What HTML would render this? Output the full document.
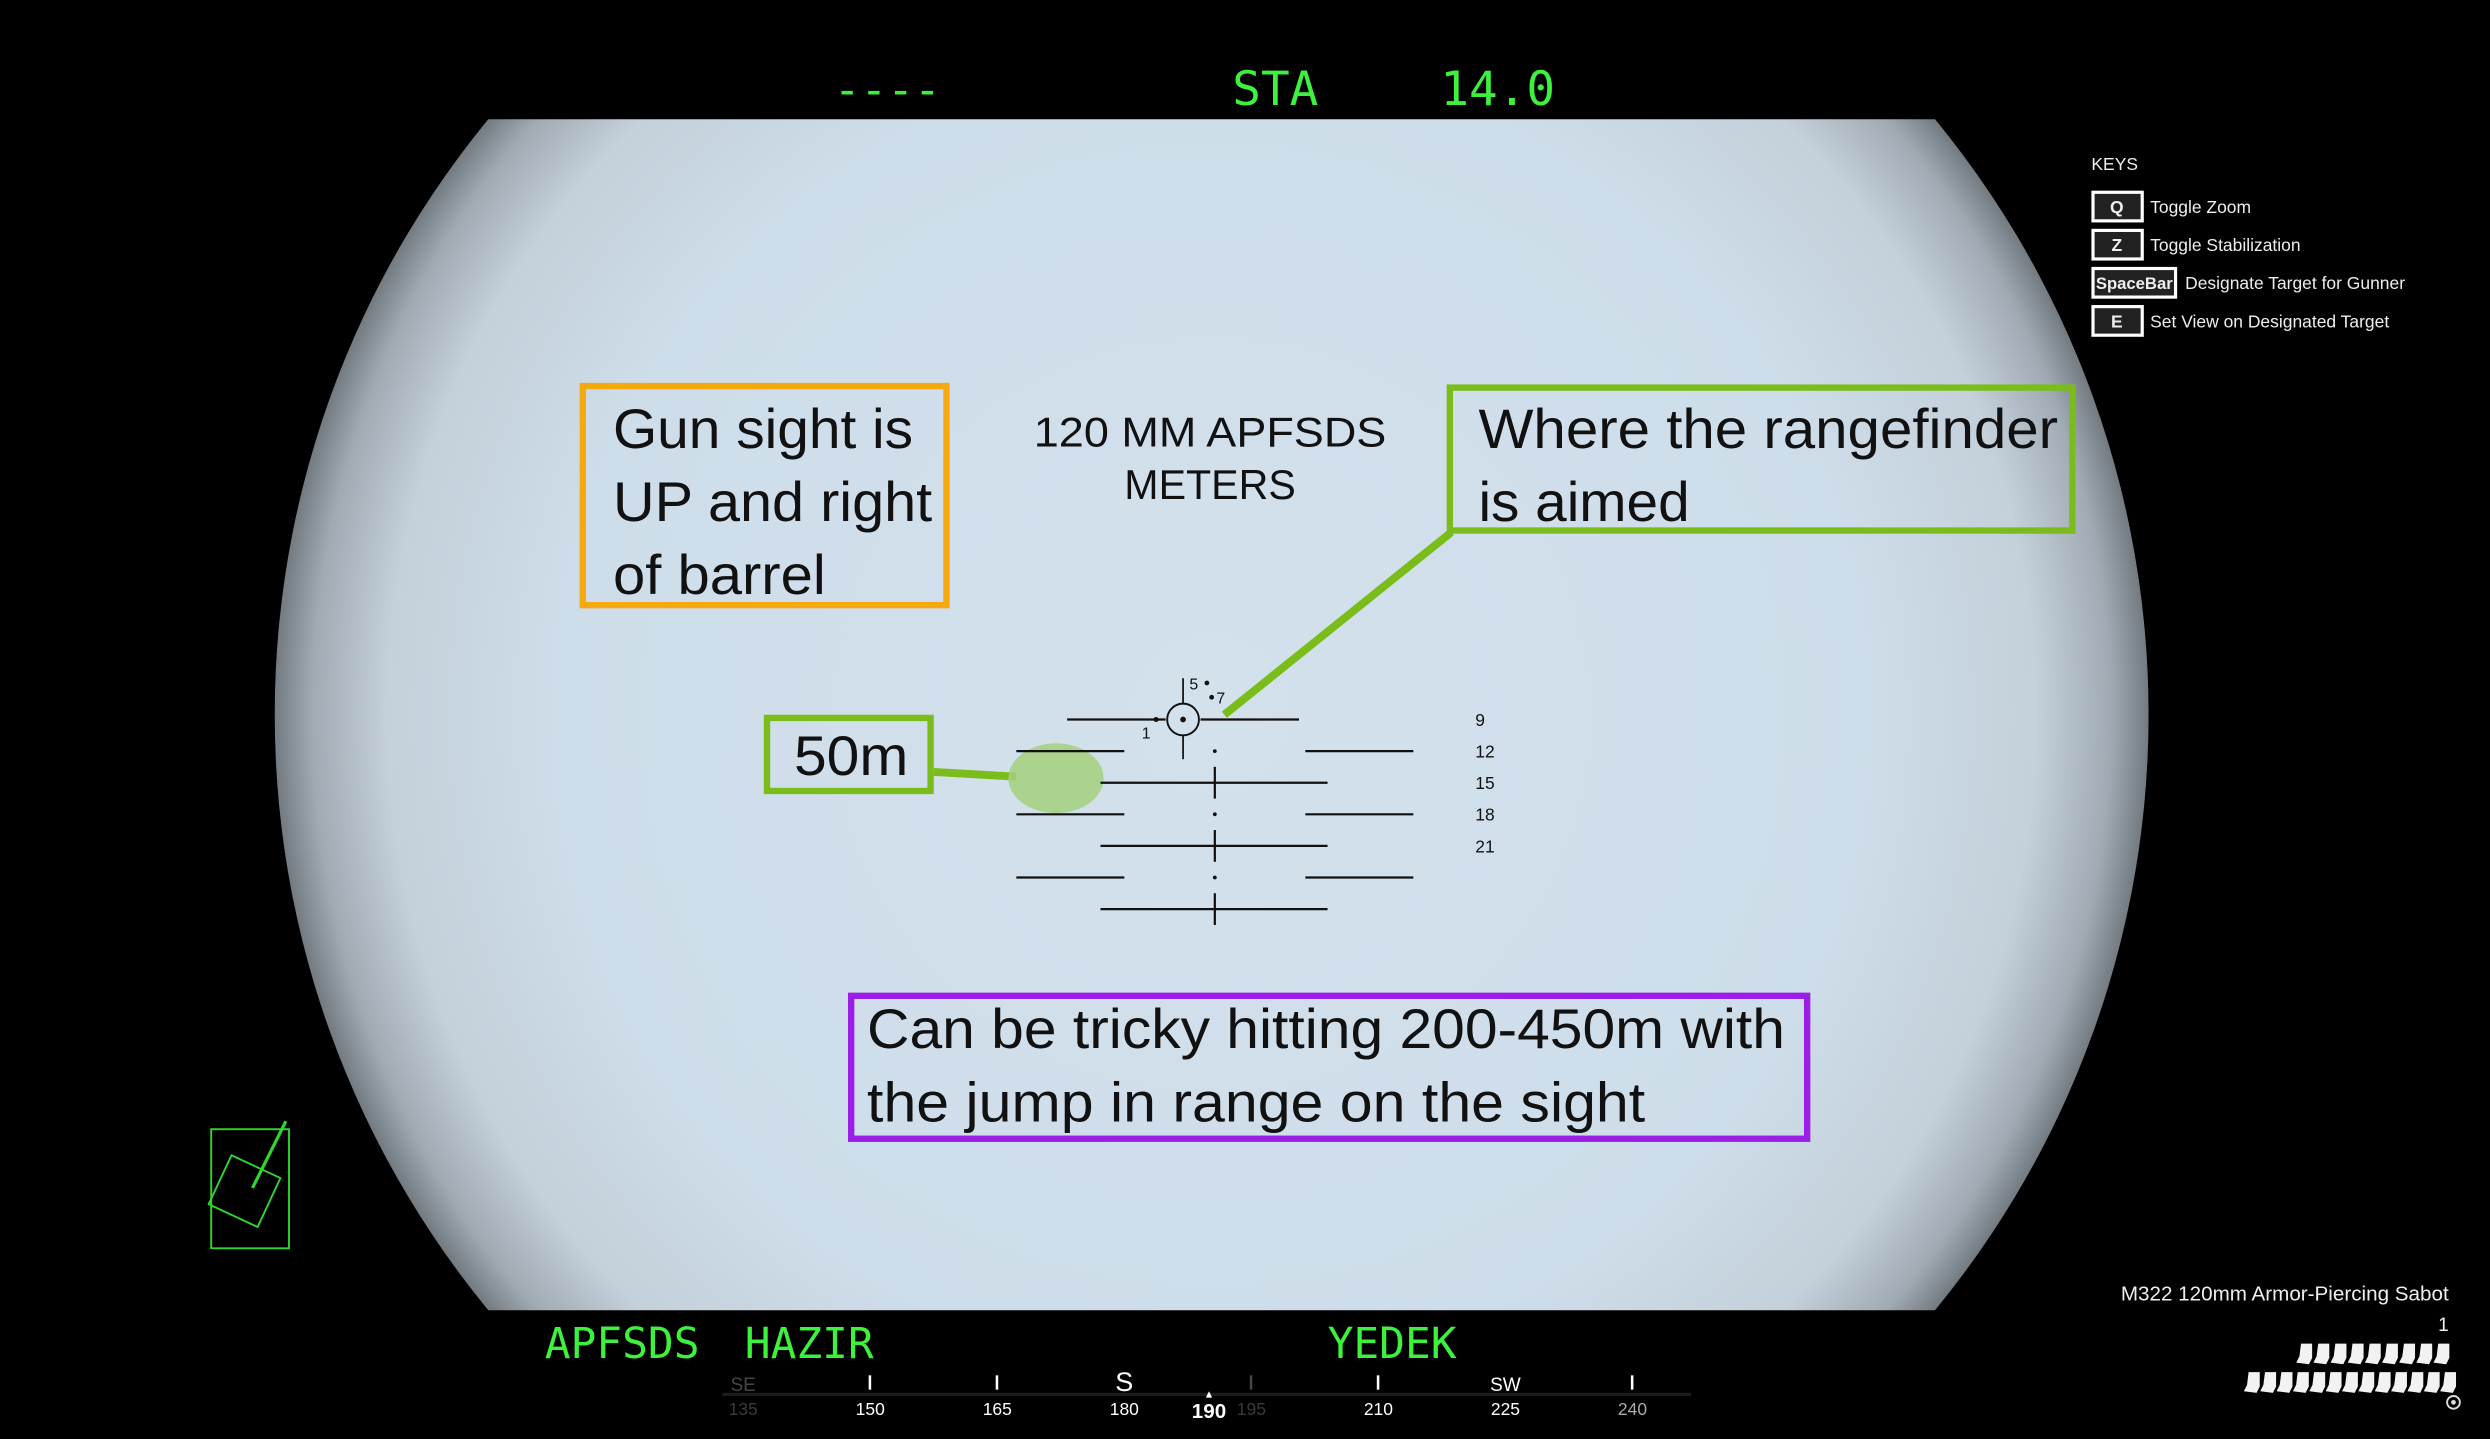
<!DOCTYPE html>
<html><head><meta charset="utf-8"><style>
html,body{margin:0;padding:0;background:#000;width:2490px;height:1439px;overflow:hidden}
svg{display:block}
.hud{font-family:"DejaVu Sans Mono","Liberation Mono",monospace;fill:#3df23d}
.ann{font-family:"Liberation Sans",sans-serif;fill:#111}
.wt{font-family:"Liberation Sans",sans-serif;fill:#eee}
</style></head><body>
<svg id="s" width="2490" height="1439" viewBox="0 0 1568 906" xmlns="http://www.w3.org/2000/svg">
<defs>
<radialGradient id="vg" cx="763" cy="450" r="590" gradientUnits="userSpaceOnUse">
<stop offset="0" stop-color="#d3e1ec"/><stop offset="0.7" stop-color="#cddde9"/><stop offset="0.88" stop-color="#c4d0da"/><stop offset="0.96" stop-color="#a0aab3"/><stop offset="1" stop-color="#737b81"/>
</radialGradient>
<clipPath id="cp"><rect x="0" y="75" width="1568" height="750"/></clipPath>
</defs>
<rect width="1568" height="906" fill="#000"/>
<circle cx="763" cy="450" r="590" fill="url(#vg)" clip-path="url(#cp)"/>

<text class="hud" x="525" y="66" font-size="28">----</text>
<text class="hud" x="776" y="66" font-size="30">STA</text>
<text class="hud" x="907" y="66" font-size="30">14.0</text>

<g font-family="Liberation Sans,sans-serif" font-size="11">
<text class="wt" x="1317" y="107">KEYS</text>
<g><rect x="1318" y="121" width="31" height="18" fill="#222" stroke="#fff" stroke-width="2"/><text class="wt" x="1333" y="134" text-anchor="middle" font-weight="bold">Q</text><text class="wt" x="1354" y="134">Toggle Zoom</text></g>
<g><rect x="1318" y="145" width="31" height="18" fill="#222" stroke="#fff" stroke-width="2"/><text class="wt" x="1333" y="158" text-anchor="middle" font-weight="bold">Z</text><text class="wt" x="1354" y="158">Toggle Stabilization</text></g>
<g><rect x="1318" y="169" width="52" height="18" fill="#222" stroke="#fff" stroke-width="2"/><text class="wt" x="1344" y="182" text-anchor="middle" font-weight="bold" font-size="10.5">SpaceBar</text><text class="wt" x="1376" y="182">Designate Target for Gunner</text></g>
<g><rect x="1318" y="193" width="31" height="18" fill="#222" stroke="#fff" stroke-width="2"/><text class="wt" x="1333" y="206" text-anchor="middle" font-weight="bold">E</text><text class="wt" x="1354" y="206">Set View on Designated Target</text></g>
</g>

<g>
<rect x="367" y="243" width="229" height="138" fill="none" stroke="#f5a90e" stroke-width="4"/>
<text class="ann" x="386" y="282" font-size="35" textLength="189" lengthAdjust="spacingAndGlyphs">Gun sight is</text>
<text class="ann" x="386" y="328" font-size="35" textLength="201" lengthAdjust="spacingAndGlyphs">UP and right</text>
<text class="ann" x="386" y="374" font-size="35" textLength="134" lengthAdjust="spacingAndGlyphs">of barrel</text>
</g>
<g font-family="Liberation Sans,sans-serif" font-size="26" fill="#111">
<text x="651" y="281" textLength="222" lengthAdjust="spacingAndGlyphs">120 MM  APFSDS</text><text x="708" y="314" textLength="108" lengthAdjust="spacingAndGlyphs">METERS</text>
</g>
<g>
<rect x="913" y="244" width="392" height="90" fill="none" stroke="#7abd1a" stroke-width="4"/>
<text class="ann" x="931" y="282" font-size="35" textLength="365" lengthAdjust="spacingAndGlyphs">Where the rangefinder</text>
<text class="ann" x="931" y="328" font-size="35" textLength="133" lengthAdjust="spacingAndGlyphs">is aimed</text>
<line x1="914" y1="335" x2="771" y2="450" stroke="#7abd1a" stroke-width="5"/>
</g>
<g>
<rect x="483" y="452" width="103" height="46" fill="none" stroke="#7abd1a" stroke-width="4"/>
<text class="ann" x="500" y="488" font-size="35" textLength="72" lengthAdjust="spacingAndGlyphs">50m</text>
<line x1="588" y1="486" x2="640" y2="489" stroke="#7abd1a" stroke-width="5"/>
<ellipse cx="665" cy="490" rx="30" ry="22" fill="#a6d07e" opacity="0.85"/>
</g>
<g>
<rect x="536" y="627" width="602" height="90" fill="none" stroke="#9b1ee6" stroke-width="4"/>
<text class="ann" x="546" y="660" font-size="35" textLength="578" lengthAdjust="spacingAndGlyphs">Can be tricky hitting 200-450m with</text>
<text class="ann" x="546" y="706" font-size="35" textLength="490" lengthAdjust="spacingAndGlyphs">the jump in range on the sight</text>
</g>

<g id="reticle" stroke="#111" fill="#111" font-family="Liberation Sans,sans-serif"></g>

<text class="hud" x="343" y="855" font-size="27">APFSDS</text>
<text class="hud" x="469" y="855" font-size="27">HAZIR</text>
<text class="hud" x="836" y="855" font-size="27">YEDEK</text>

<g stroke="#2ed62e" fill="none" stroke-width="1.2">
<rect x="133" y="711" width="49" height="75"/>
<rect x="137" y="733" width="34" height="34" transform="rotate(25 154 750)"/>
<line x1="159" y1="748" x2="180" y2="706" stroke-width="2"/>
</g>

<g id="compass" font-family="Liberation Sans,sans-serif"></g>

<g>
<text class="wt" x="1542" y="819" font-size="13" text-anchor="end">M322 120mm Armor-Piercing Sabot</text>
<text class="wt" x="1542" y="838" font-size="12" text-anchor="end">1</text>
<g id="rounds" fill="#f2f2f2"></g>
<circle cx="1545" cy="883" r="4" fill="none" stroke="#ddd" stroke-width="1.2"/><circle cx="1545" cy="883" r="1.5" fill="#ddd"/>
</g>
</svg>
<script>
const NS="http://www.w3.org/2000/svg";
// reticle data
const rangeLabels=["9","12","15","18","21"];
const rowKinds=["main","side","cross","dotside","cross","dotside","cross"];
// compass data
const headings=[135,150,165,180,195,210,225,240];
const headingNames={135:"SE",180:"S",225:"SW"};
const currentHeading=190;

function el(tag,attrs,parent){const e=document.createElementNS(NS,tag);for(const k in attrs)e.setAttribute(k,attrs[k]);parent.appendChild(e);return e;}
const ret=document.getElementById('reticle');
const cx=765, rowY=i=>453+i*19.9;
rowKinds.forEach((k,i)=>{
  const y=rowY(i);
  if(k==="main"){
    let a=el('line',{x1:672,y1:y,x2:734,y2:y,'stroke-width':1.4},ret);
    let b=el('line',{x1:756,y1:y,x2:818,y2:y,'stroke-width':1.4},ret);
  } else if(k==="side"||k==="dotside"){
    let a=el('line',{x1:640,y1:y,x2:708,y2:y,'stroke-width':1.4},ret);
    let b=el('line',{x1:822,y1:y,x2:890,y2:y,'stroke-width':1.4},ret);
    let d=el('circle',{cx:cx,cy:y,r:1.2,stroke:'none'},ret);
  } else {
    let a=el('line',{x1:693,y1:y,x2:836,y2:y,'stroke-width':1.4},ret);
    let b=el('line',{x1:cx,y1:y-10,x2:cx,y2:y+10,'stroke-width':1.4},ret);
  }
});
rangeLabels.forEach((t,i)=>{const e=el('text',{x:929,y:rowY(i)+4,'font-size':11,stroke:'none'},ret);e.textContent=t;
});
let c=el('circle',{cx:745,cy:453,r:10,fill:'none','stroke-width':1.2},ret);
el('circle',{cx:745,cy:453,r:1.8,stroke:'none'},ret);
el('line',{x1:745,y1:427,x2:745,y2:443,'stroke-width':1.1},ret);
el('line',{x1:745,y1:463,x2:745,y2:478,'stroke-width':1.1},ret);
el('circle',{cx:728,cy:453,r:1.6,stroke:'none'},ret);
el('circle',{cx:760,cy:430,r:1.5,stroke:'none'},ret);
el('circle',{cx:763,cy:439,r:1.5,stroke:'none'},ret);
[["1",719,465],["5",749,434],["7",766,443]].forEach(([t,x,y])=>{const e=el('text',{x:x,y:y,'font-size':10,stroke:'none'},ret);e.textContent=t;});

const cmp=document.getElementById('compass');
const hx=h=>548+(h-150)*(480/90);
el('rect',{x:455,y:877,width:610,height:2,fill:'#1c1c1c'},cmp);
headings.forEach(h=>{
  const x=hx(h), faded=(h===135||h===195), col=faded?'#444':'#fff';
  if(headingNames[h]){const t=el('text',{x:x,y:876,'font-size':h===180?17:12,fill:h===135?'#444':'#fff','text-anchor':'middle'},cmp);t.textContent=headingNames[h];}
  else {const t=el('rect',{x:x-1,y:866,width:1.6,height:9,fill:col},cmp);}
  const l=el('text',{x:x,y:891,'font-size':11,fill:faded?'#3a3a3a':(h===240?'#aaa':'#fff'),'text-anchor':'middle'},cmp);l.textContent=h;
  
});
const ch=el('text',{x:hx(currentHeading),y:893,'font-size':13,fill:'#fff','text-anchor':'middle','font-weight':'bold'},cmp);ch.textContent=currentHeading;

el('path',{d:`M${hx(currentHeading)-2} 880 L${hx(currentHeading)+2} 880 L${hx(currentHeading)} 876Z`,fill:'#fff'},cmp);

const rg=document.getElementById('rounds');
function round(x,y){const p=el('path',{d:`M${x+2} ${y} l7 0 l0 9 l-2 4 l-8 -1 l2 -4z`},rg);}
for(let i=0;i<9;i++)round(1447+i*10.8,846);
for(let i=0;i<13;i++)round(1414+i*10.3,864);
</script>
</body></html>
